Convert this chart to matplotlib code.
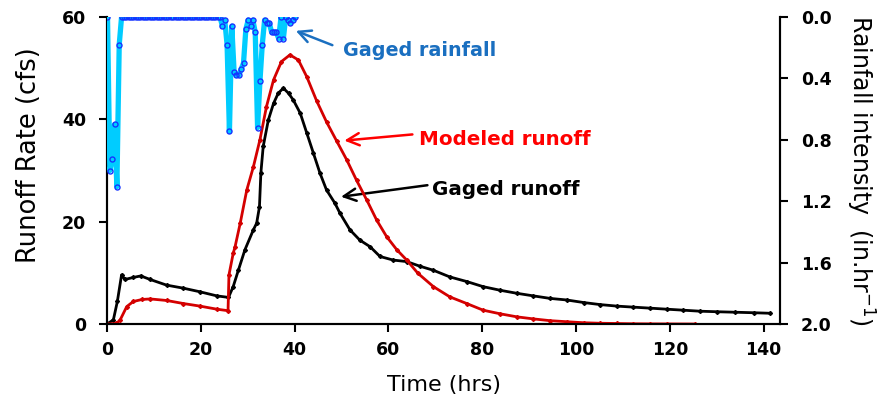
import matplotlib
matplotlib.use("Agg")
import matplotlib.pyplot as plt
from matplotlib.ticker import FormatStrFormatter

plt.rcParams['font.family'] = ['DejaVu Sans']

# ---- data ----
gaged_t = [0, 1.35, 2.2, 3.1, 3.8, 5.6, 7.2, 9.2, 12.7, 16.3, 19.8, 23.4, 25.9,
           26.9, 28.0, 29.4, 31.2, 31.9, 32.5, 32.8, 33.3, 34.4, 35.5, 36.5, 37.6,
           38.7, 39.7, 41.2, 42.6, 44.0, 45.4, 46.8, 48.6, 49.7, 51.8, 53.9, 56.1,
           58.2, 61.0, 63.9, 66.7, 69.6, 73.1, 76.7, 80.2, 83.8, 87.4, 90.9, 94.5,
           98.0, 101.6, 105.1, 108.7, 112.2, 115.8, 119.3, 122.9, 126.5, 130.0,
           134.0, 138.0, 141.4]
gaged_q = [0, 0.8, 4.4, 9.6, 8.7, 9.1, 9.4, 8.7, 7.6, 7.0, 6.3, 5.5, 5.2,
           7.3, 10.5, 14.5, 18.4, 19.7, 22.9, 29.5, 34.7, 39.9, 43.1, 45.1, 46.1,
           45.1, 43.8, 41.2, 37.3, 33.4, 29.5, 26.2, 23.6, 21.6, 18.4, 16.4, 15.1,
           13.2, 12.5, 12.2, 11.3, 10.5, 9.2, 8.3, 7.3, 6.6, 6.0, 5.5, 5.0,
           4.7, 4.2, 3.8, 3.5, 3.3, 3.1, 2.9, 2.7, 2.5, 2.4,
           2.3, 2.2, 2.1]

model_t = [0, 2.0, 2.8, 4.2, 5.6, 7.5, 9.2, 12.7, 16.3, 19.8, 23.4, 25.8, 26.0,
           26.9, 27.3, 28.4, 29.8, 31.2, 32.6, 34.0, 35.5, 37.2, 39.0, 40.8, 42.6,
           44.7, 46.8, 49.0, 51.1, 53.2, 55.4, 57.5, 59.6, 61.8, 63.9, 66.3, 69.6,
           73.1, 76.7, 80.2, 83.8, 87.4, 90.9, 94.5, 98.0, 101.6, 105.1, 108.7,
           112.2, 115.8, 119.3, 125.3]
model_q = [0, 0.1, 0.8, 3.4, 4.4, 4.8, 4.9, 4.6, 4.0, 3.5, 2.9, 2.6, 9.6,
           13.8, 15.1, 19.7, 26.2, 30.7, 36.0, 42.5, 47.7, 51.3, 52.6, 51.6, 48.3,
           43.6, 39.5, 35.7, 32.1, 28.1, 24.2, 20.3, 17.1, 14.5, 12.5, 9.9, 7.3,
           5.3, 4.0, 2.7, 2.0, 1.4, 1.0, 0.65, 0.45, 0.25, 0.15, 0.1,
           0.05, 0.03, 0.02, 0.0]

rain_t = [0.1 + 0.5 * k for k in range(81)]
rain_i = ([0.0, 1.0, 0.925, 0.70, 1.105, 0.18] + [0.0] * 43 +
          [0.06, 0.02, 0.18, 0.745, 0.06, 0.36, 0.38, 0.38, 0.34, 0.30,
           0.08, 0.02, 0.06, 0.02, 0.10, 0.72, 0.42, 0.18, 0.02, 0.04,
           0.04, 0.10, 0.10, 0.10, 0.14, 0.0, 0.14, 0.0, 0.02, 0.04,
           0.02, 0.0])

x_ticks = [0, 20, 40, 60, 80, 100, 120, 140]
y_ticks = [0, 20, 40, 60]
y2_ticks = [0.0, 0.4, 0.8, 1.2, 1.6, 2.0]

fig = plt.figure(figsize=(8.86, 4.09), dpi=100)
ax = fig.add_axes([0.1208, 0.2078, 0.7596, 0.7506])
ax2 = ax.twinx()

ax.plot(gaged_t, gaged_q, color='black', lw=2.0, marker='D', ms=2.0, zorder=3)
ax.plot(model_t, model_q, color='#D40000', lw=2.0, marker='D', ms=2.0, zorder=4)
ax2.plot(rain_t, rain_i, color='#00CCFF', lw=3.8, marker='o', ms=3.6,
         mfc='none', mec='#1533FF', mew=1.0, zorder=5)

ax.set_xlim(0, 143.5)
ax.set_ylim(0, 60)
ax2.set_ylim(2.0, 0.0)
ax.set_xticks(x_ticks)
ax.set_yticks(y_ticks)
ax2.set_yticks(y2_ticks)
ax2.yaxis.set_major_formatter(FormatStrFormatter('%.1f'))

for a in (ax, ax2):
    a.spines['top'].set_visible(False)
    for s in a.spines.values():
        s.set_linewidth(1.5)
    a.tick_params(direction='out', length=6, width=1.5, labelsize=12.5, pad=9)
ax.tick_params(axis='x', pad=6)
for lab in ax.get_xticklabels() + ax.get_yticklabels() + ax2.get_yticklabels():
    lab.set_fontweight('bold')

ax.set_xlabel('Time (hrs)', fontsize=16, labelpad=12)
ax.set_ylabel('Runoff Rate (cfs)', fontsize=18.5)
ax.yaxis.set_label_coords(-0.097, 0.55)
ax2.set_ylabel('Rainfall intensity  (in.hr$^{-1}$)', fontsize=17, rotation=270,
               labelpad=32)

# annotations
ax.annotate('', xy=(39.7, 57.5), xytext=(48.6, 54.3),
            arrowprops=dict(arrowstyle='->', color='#1A6FC0', lw=1.8, mutation_scale=22))
ax.text(50.3, 53.5, 'Gaged rainfall', color='#1A6FC0', fontsize=13.8,
        fontweight='bold', ha='left', va='center')
ax.annotate('', xy=(50.0, 35.8), xytext=(65.7, 37.1),
            arrowprops=dict(arrowstyle='->', color='#FF0000', lw=1.8, mutation_scale=22))
ax.text(66.5, 36.0, 'Modeled runoff', color='#FF0000', fontsize=14.3,
        fontweight='bold', ha='left', va='center')
ax.annotate('', xy=(49.3, 24.8), xytext=(68.9, 27.2),
            arrowprops=dict(arrowstyle='->', color='black', lw=1.8, mutation_scale=22))
ax.text(69.3, 26.3, 'Gaged runoff', color='black', fontsize=14.3,
        fontweight='bold', ha='left', va='center')

fig.savefig('out.png', dpi=100)
